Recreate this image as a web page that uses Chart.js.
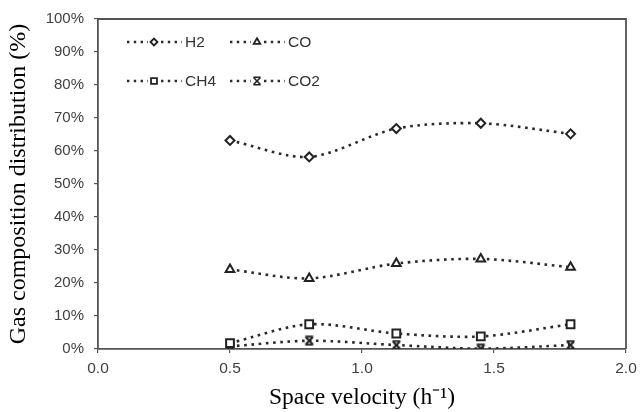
<!DOCTYPE html>
<html>
<head>
<meta charset="utf-8">
<script src="https://cdn.jsdelivr.net/npm/chart.js@4.4.1/dist/chart.umd.min.js"></script>
<style>
html,body{margin:0;padding:0;background:#fff;}
#wrap{width:643px;height:412px;position:relative;}
</style>
</head>
<body>
<div id="wrap"><canvas id="c" width="643" height="412"></canvas></div>
<script>
// ---- data ----
const spaceVelocity = [0.5, 0.8, 1.13, 1.45, 1.79];
const h2  = [63.2, 58.2, 66.8, 68.4, 65.2];
const co  = [24.1, 21.4, 25.9, 27.3, 24.8];
const ch4 = [1.8, 7.5, 4.7, 3.8, 7.5];
const co2 = [0.8, 2.5, 1.2, 0.1, 1.2];
const seriesNames = ['H2', 'CO', 'CH4', 'CO2'];
const xTicks = [0, 0.5, 1.0, 1.5, 2.0];
const yTicks = [0,10,20,30,40,50,60,70,80,90,100];

// custom CO2 marker (X with horizontal caps)
function makeBowtie(size, lw){
  const c = document.createElement('canvas');
  c.width = size; c.height = size;
  const g = c.getContext('2d');
  const a = lw / 2 + 0.5, b = size - lw / 2 - 0.5;
  g.fillStyle = '#fff';
  g.fillRect(0, 0, 0, 0);
  g.strokeStyle = '#222'; g.lineWidth = lw;
  g.beginPath();
  g.moveTo(a,a); g.lineTo(b,a);
  g.moveTo(a,b); g.lineTo(b,b);
  g.moveTo(a+0.5,a+0.5); g.lineTo(b-0.5,b-0.5);
  g.moveTo(b-0.5,a+0.5); g.lineTo(a+0.5,b-0.5);
  g.stroke();
  return c;
}
const bowtie = makeBowtie(11, 2);
const bowtieSmall = makeBowtie(10, 1.6);

const toPts = arr => spaceVelocity.map((x,i)=>({x:x, y:arr[i]}));
const lineColor = '#2a2a2a';
const styles = [
  {pointStyle:'rectRot', pointRadius:4.5},
  {pointStyle:'triangle', pointRadius:5},
  {pointStyle:'rect', pointRadius:5.5},
  {pointStyle:bowtie, pointRadius:5}
];
const legendStyles = ['rectRot', 'triangle', 'rect', bowtieSmall];
const legendRadius = [3.5, 3.8, 4.2, 4];
const values = [h2, co, ch4, co2];
const datasets = values.map((v,i)=>Object.assign({
  label: seriesNames[i],
  data: toPts(v),
  borderColor: lineColor,
  borderWidth: 2.6,
  borderDash: [2.6, 4.6],
  pointBorderColor: '#222',
  pointBackgroundColor: '#fff',
  pointBorderWidth: 2,
  tension: 0.3,
  fill: false
}, styles[i]));

const boxPlugin = {
  id: 'box',
  afterDraw(chart){
    const {ctx, chartArea:a} = chart;
    ctx.save();
    ctx.strokeStyle = '#555';
    ctx.lineWidth = 1.8;
    ctx.beginPath();
    ctx.moveTo(a.left, a.top); ctx.lineTo(a.right, a.top); ctx.lineTo(a.right, a.bottom);
    ctx.stroke();
    ctx.restore();
  }
};

const legendPlugin = {
  id: 'customLegend',
  afterDraw(chart){
    const ctx = chart.ctx;
    const rows = [42, 81];
    const cols = [127, 230];
    ctx.save();
    chart.data.datasets.forEach((ds, i) => {
      const x0 = cols[i % 2], y = rows[Math.floor(i / 2)];
      ctx.strokeStyle = lineColor;
      ctx.lineWidth = 2.4;
      ctx.setLineDash([2.4, 4.4]);
      ctx.beginPath();
      ctx.moveTo(x0, y); ctx.lineTo(x0 + 21, y);
      ctx.moveTo(x0 + 34, y); ctx.lineTo(x0 + 55, y);
      ctx.stroke();
      ctx.setLineDash([]);
      ctx.fillStyle = '#fff';
      ctx.strokeStyle = '#222';
      ctx.lineWidth = 1.8;
      Chart.helpers.drawPoint(ctx, {pointStyle: legendStyles[i], radius: legendRadius[i], borderWidth: 1.8, rotation: 0}, x0 + 27, y);
      ctx.fillStyle = '#333';
      ctx.font = '15.5px "Liberation Sans", Arial, sans-serif';
      ctx.textBaseline = 'middle';
      ctx.textAlign = 'left';
      ctx.fillText(ds.label, x0 + 58, y + 1);
    });
    ctx.restore();
  }
};

new Chart(document.getElementById('c'), {
  type: 'line',
  data: { datasets },
  options: {
    responsive: false,
    animation: false,
    layout: { padding: { left: 0, right: 17, top: 17, bottom: 0 } },
    plugins: { legend: { display: false }, tooltip: { enabled: false } },
    scales: {
      x: {
        type: 'linear',
        min: 0, max: 2,
        afterBuildTicks(s){ s.ticks = xTicks.map(v=>({value:v})); },
        afterFit(s){ s.height = 412 - 349; },
        border: { display: true, color: '#555', width: 1.8 },
        grid: { drawOnChartArea: false, drawTicks: true, tickLength: 4, color: '#555', lineWidth: 1.2 },
        ticks: {
          padding: 6,
          color: '#404040',
          font: { family: '"Liberation Sans", Arial, sans-serif', size: 15.5 },
          maxRotation: 0,
          callback: v => Number(v).toFixed(1)
        },
        title: {
          display: true,
          text: 'Space velocity (h\u207B\u00B9)',
          color: '#000',
          font: { family: '"Liberation Serif", "Times New Roman", serif', size: 23.5 },
          padding: { top: 0, bottom: 0 }
        }
      },
      y: {
        type: 'linear',
        min: 0, max: 100,
        afterBuildTicks(s){ s.ticks = yTicks.map(v=>({value:v})); },
        afterFit(s){ s.width = 98; },
        border: { display: true, color: '#555', width: 1.8 },
        grid: { drawOnChartArea: false, drawTicks: true, tickLength: 4, color: '#555', lineWidth: 1.2 },
        ticks: {
          padding: 10,
          color: '#404040',
          font: { family: '"Liberation Sans", Arial, sans-serif', size: 15 },
          callback: v => v + '%'
        },
        title: {
          display: true,
          text: 'Gas composition distribution (%)',
          color: '#000',
          font: { family: '"Liberation Serif", "Times New Roman", serif', size: 24 },
          padding: { top: 4, bottom: 0 }
        }
      }
    }
  },
  plugins: [boxPlugin, legendPlugin]
});
</script>
</body>
</html>
